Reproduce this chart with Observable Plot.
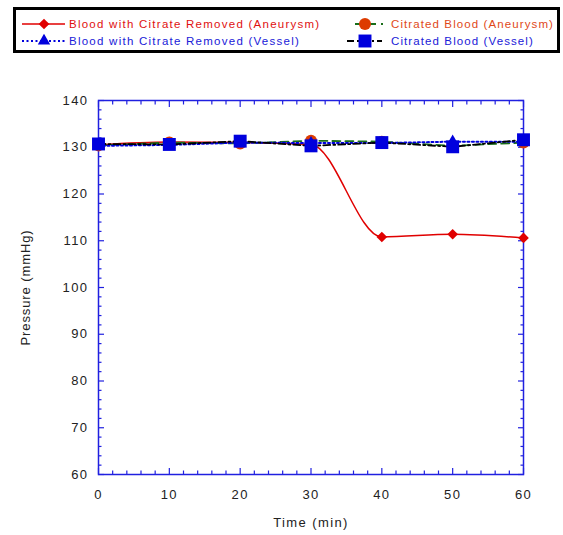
<!DOCTYPE html>
<html><head><meta charset="utf-8">
<script src="https://cdn.jsdelivr.net/npm/d3@7"></script>
<script src="https://cdn.jsdelivr.net/npm/@observablehq/plot@0.6"></script>
<style>
body{margin:0;background:#fff;font-family:"Liberation Sans",Arial,sans-serif;}
#wrap{width:563px;height:535px;position:relative;}
#legend{position:relative;height:60px;}
#legend .box{position:absolute;left:13px;top:7px;width:541px;height:40px;border:3px solid #000;}
#legend .item{position:absolute;display:flex;align-items:center;font-size:11.5px;letter-spacing:1.25px;white-space:nowrap;}
#legend .item.c2{letter-spacing:1.1px;}
#legend svg{display:block;margin-right:4px;}
#chart svg text{letter-spacing:1.4px;}
#chart svg g[aria-label="y-axis label"] text{letter-spacing:0.9px;}
</style></head><body>
<div id="wrap"><div id="legend"><div class="box"></div></div><div id="chart"></div></div>
<script>
const time = [0, 10, 20, 30, 40, 50, 60];
const removedAneurysm = [130.5, 131.1, 131.0, 130.6, 110.8, 111.4, 110.6];
const citratedAneurysm = [130.4, 131.0, 130.8, 131.4, 131.2, 130.3, 131.0];
const removedVessel = [130.3, 130.5, 131.0, 130.9, 130.9, 131.2, 131.2];
const citratedVessel = [130.7, 130.6, 131.3, 130.3, 131.0, 130.1, 131.6];
const seriesNames = ["Blood with Citrate Removed (Aneurysm)", "Citrated Blood (Aneurysm)", "Blood with Citrate Removed (Vessel)", "Citrated Blood (Vessel)"];
const xMajor = [0, 10, 20, 30, 40, 50, 60];
const yMajor = [60, 70, 80, 90, 100, 110, 120, 130, 140];

const xMinor = d3.range(0, 61, 2).filter(d => d % 10);
const yMinor = d3.range(60, 141, 2).filter(d => d % 10);

const styles = [
  {line: "#e00000", dash: null, width: 1.5, fill: "#e00000", symbol: "diamond2", r: 4.8, text: "#e01010", curve: "monotone-x"},
  {line: "#1a6e1a", dash: "8,5", width: 1.8, fill: "#dd3b00", symbol: "circle", r: 6, text: "#e04818", curve: "linear"},
  {line: "#0000dd", dash: "2,2.5", width: 2, fill: "#0000dd", symbol: "triangle", r: 4.6, text: "#2020d8", curve: "linear"},
  {line: "#000000", dash: "7,3,2,3", width: 1.8, fill: "#0000dd", symbol: "square", r: 7.3, text: "#2020d8", curve: "linear"}
];
const values = [removedAneurysm, citratedAneurysm, removedVessel, citratedVessel];
const tables = values.map(v => time.map((t, i) => ({t, p: v[i]})));

const frameColor = "#2020e0";
const marks = [];
tables.forEach((tb, k) => {
  const s = styles[k];
  marks.push(Plot.line(tb, {x: "t", y: "p", stroke: s.line, strokeWidth: s.width, strokeDasharray: s.dash, curve: s.curve}));
  marks.push(Plot.dot(tb, {x: "t", y: "p", symbol: () => s.symbol, fill: s.fill, stroke: "none", r: s.r}));
});

const tickStyle = {stroke: frameColor, strokeWidth: 1.2, tickFormat: () => ""};
const chart = Plot.plot({
  width: 563, height: 475,
  marginTop: 40, marginBottom: 61, marginLeft: 98, marginRight: 40,
  style: {fontFamily: "Liberation Sans, Arial, sans-serif", background: "#fff", fontSize: "13px", color: "#222"},
  x: {domain: [0, 60]},
  y: {domain: [60, 140]},
  symbol: {type: "identity"},
  marks: [
    Plot.axisX(xMajor, {anchor: "bottom", tickSize: 0, tickPadding: 15, fontSize: 13, fill: "#222", label: "Time (min)", labelAnchor: "center", labelOffset: 52, labelArrow: "none"}),
    Plot.axisY(yMajor, {anchor: "left", tickSize: 0, tickPadding: 10, fontSize: 13, fill: "#222", label: "Pressure (mmHg)", labelAnchor: "center", labelOffset: 78, labelArrow: "none"}),
    Plot.axisX(xMajor, {anchor: "bottom", tickSize: -6, ...tickStyle, label: null}),
    Plot.axisX(xMinor, {anchor: "bottom", tickSize: -3.5, ...tickStyle, label: null}),
    Plot.axisX(xMajor, {anchor: "top", tickSize: -6, ...tickStyle, label: null}),
    Plot.axisX(xMinor, {anchor: "top", tickSize: -3.5, ...tickStyle, label: null}),
    Plot.axisY(yMajor, {anchor: "left", tickSize: -6, ...tickStyle, label: null}),
    Plot.axisY(yMinor, {anchor: "left", tickSize: -3.5, ...tickStyle, label: null}),
    Plot.axisY(yMajor, {anchor: "right", tickSize: -6, ...tickStyle, label: null}),
    Plot.axisY(yMinor, {anchor: "right", tickSize: -3.5, ...tickStyle, label: null}),
    Plot.frame({stroke: frameColor, strokeWidth: 1.5}),
    ...marks
  ]
});
document.getElementById("chart").appendChild(chart);

// legend
const legendPos = [
  {left: 22, top: 16, W: 43, x0: 0, x1: 43},
  {left: 347, top: 16, W: 40, x0: 8, x1: 36},
  {left: 22, top: 33, W: 43, x0: 0, x1: 43},
  {left: 347, top: 33, W: 40, x0: 0, x1: 35}
];
const leg = document.getElementById("legend");
seriesNames.forEach((name, k) => {
  const s = styles[k], p = legendPos[k];
  const div = document.createElement("div");
  div.className = "item" + (k % 2 ? " c2" : "");
  div.style.left = p.left + "px";
  div.style.top = p.top + "px";
  div.style.color = s.text;
  const svg = d3.create("svg").attr("width", p.W).attr("height", 16);
  svg.append("line").attr("x1", p.x0).attr("x2", p.x1).attr("y1", 8).attr("y2", 8)
    .attr("stroke", s.line).attr("stroke-width", s.width).attr("stroke-dasharray", s.dash);
  const cx = k === 0 || k === 2 ? 22 : 18;
  const sym = {diamond2: d3.symbolDiamond2, circle: d3.symbolCircle, triangle: d3.symbolTriangle, square: d3.symbolSquare}[s.symbol];
  svg.append("path").attr("transform", `translate(${cx},8)`).attr("d", d3.symbol(sym, Math.PI * s.r * s.r)()).attr("fill", s.fill);
  div.appendChild(svg.node());
  const span = document.createElement("span");
  span.textContent = name;
  div.appendChild(span);
  leg.appendChild(div);
});
</script>
</body></html>
